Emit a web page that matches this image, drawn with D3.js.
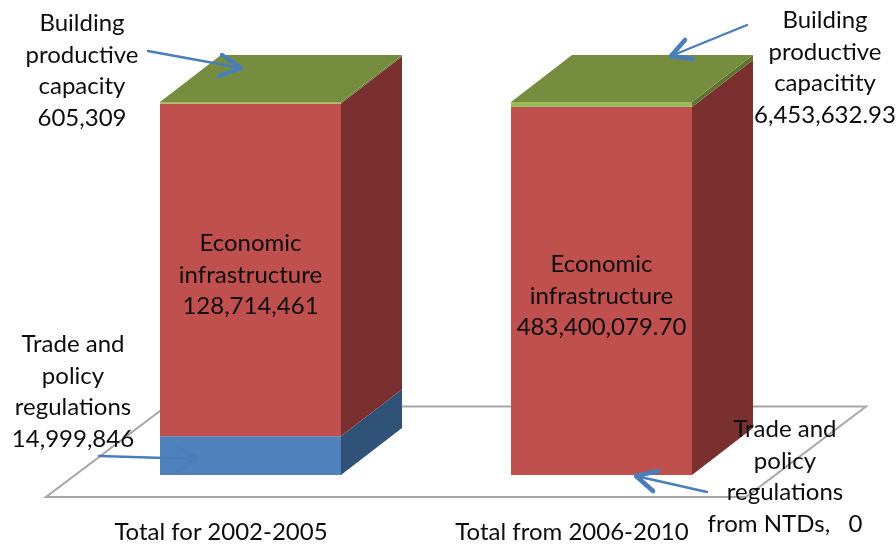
<!DOCTYPE html>
<html><head><meta charset="utf-8">
<script src="https://cdn.jsdelivr.net/npm/d3@7"></script>
<style>
html,body{margin:0;padding:0;background:#fff}
svg{display:block;filter:blur(0.45px)}
text{font-family:Lato,"Open Sans",sans-serif;font-size:24px;fill:#0d0d0d;white-space:pre}
</style></head><body>
<svg id="c" width="896" height="547"></svg>
<script>
const categories = ["Total for 2002-2005", "Total from 2006-2010"];
const tradePolicy = [14999846, 0];
const economicInfra = [128714461, 483400079.70];
const buildingCapacity = [605309, 6453632.93];
const seriesKeys = ["trade", "economic", "building"];
const seriesFront = ["#4F81BD", "#C0504D", "#9BBB59"];
const seriesSide = ["#315278", "#7A302E", "#5F7431"];
const topColor = "#768D3F";
const floorColor = "#A6A6A6";
const arrowColor = "#4A7EBB";
const economicLabel = [["Economic", "infrastructure"], ["Economic", "infrastructure"]];
const valueFormats = [",", ",.2f"];

const rows = categories.map((c, i) => ({
  category: c, trade: tradePolicy[i], economic: economicInfra[i], building: buildingCapacity[i]
}));
const stacked = d3.stack().keys(seriesKeys).offset(d3.stackOffsetExpand)(rows);

const svg = d3.select("#c");
const x = d3.scaleBand().domain(categories).range([160, 692]).paddingInner(170 / 351);
const y = d3.scaleLinear().domain([0, 1]).range([475, 102]);
const depth = { dx: 61, dy: -47 };
const pts = a => a.map(p => p.join(",")).join(" ");

// floor
svg.append("polygon")
  .attr("points", pts([[46, 497], [746, 497], [866, 406.5], [166, 406.5]]))
  .attr("fill", "none").attr("stroke", floorColor).attr("stroke-width", 2);

// bars
categories.forEach((cat, ci) => {
  const g = svg.append("g");
  const x0 = x(cat), w = x.bandwidth(), x1 = x0 + w;
  stacked.forEach((s, si) => {
    const yb = y(s[ci][0]), yt = y(s[ci][1]);
    if (yb - yt <= 0) return;
    g.append("polygon")
      .attr("points", pts([[x1, yb], [x1 + depth.dx, yb + depth.dy], [x1 + depth.dx, yt + depth.dy], [x1, yt]]))
      .attr("fill", seriesSide[si]);
    g.append("rect").attr("x", x0).attr("y", yt).attr("width", w).attr("height", yb - yt)
      .attr("fill", seriesFront[si]);
  });
  const yTop = y(1);
  g.append("polygon")
    .attr("points", pts([[x0, yTop], [x0 + depth.dx, yTop + depth.dy], [x1 + depth.dx, yTop + depth.dy], [x1, yTop]]))
    .attr("fill", topColor);
});

// category axis
const axis = svg.append("g").attr("transform", "translate(-29.5,522)")
  .call(d3.axisBottom(x).tickSize(0).tickPadding(0));
axis.select(".domain").remove();
axis.selectAll("text").attr("dy", null).attr("y", 18);
axis.attr("font-size", null).attr("font-family", null);

// arrows
function arrow(from, tip, b1, b2, color, op) {
  const g = svg.append("g").attr("fill", "none").attr("stroke", color).attr("opacity", op || 1)
    .attr("stroke-linecap", "round").attr("stroke-linejoin", "round");
  g.append("line").attr("x1", from[0]).attr("y1", from[1]).attr("x2", tip[0]).attr("y2", tip[1]).attr("stroke-width", 2.4);
  g.append("polyline").attr("points", pts([b1, tip, b2])).attr("stroke-width", 4.5);
}
arrow([148, 51], [241, 68], [222, 55], [219, 76], arrowColor);
arrow([747, 25], [671, 56], [685, 40], [693, 59], arrowColor);
arrow([99, 456], [197, 459], [178, 447], [178, 470], "#4A7EBB", 1);
arrow([707, 492], [636, 476], [658, 471], [653, 491], arrowColor);

// labels
function label(cx, baseline, lines) {
  const t = svg.append("text").attr("text-anchor", "middle");
  lines.forEach((l, i) => t.append("tspan").attr("x", cx).attr("y", baseline + i * 31.7).text(l));
}
categories.forEach((cat, ci) => {
  const seg = stacked[1][ci];
  const mid = y((seg[0] + seg[1]) / 2);
  label(x(cat) + x.bandwidth() / 2, mid - 19,
    [...economicLabel[ci], d3.format(valueFormats[ci])(economicInfra[ci])]);
});
label(82, 31, ["Building", "productive", "capacity", d3.format(valueFormats[0])(buildingCapacity[0])]);
label(825, 28, ["Building", "productive", "capacitity", d3.format(valueFormats[1])(buildingCapacity[1])]);
label(73, 352, ["Trade and", "policy", "regulations", d3.format(valueFormats[0])(tradePolicy[0])]);
label(785, 437, ["Trade and", "policy", "regulations", "from NTDs,   " + tradePolicy[1]]);
</script>
</body></html>
